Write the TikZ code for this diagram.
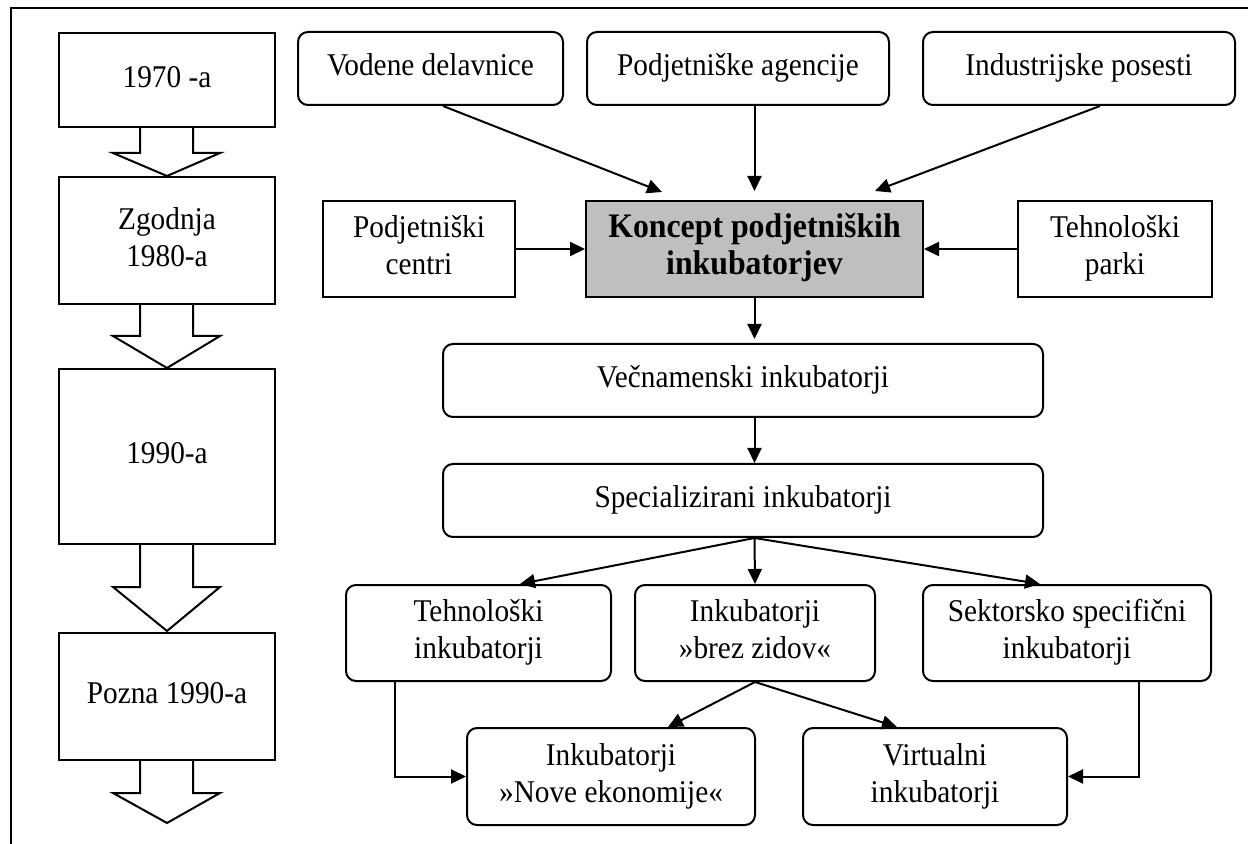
\documentclass[tikz,border=0pt]{standalone}
\usepackage{fontspec}
\usepackage{graphicx}
\setmainfont{Liberation Serif}
\usetikzlibrary{arrows.meta,calc}
\newcommand\tx[1]{\scalebox{1}[1.08]{\begin{tabular}{@{}c@{}}#1\end{tabular}}}
\begin{document}
\begin{tikzpicture}[x=0.5pt,y=-0.5pt, line width=1pt,
  base/.style={draw, inner sep=0pt, font=\fontsize{14.65pt}{17pt}\selectfont},
  sqbox/.style={base},
  rbox/.style={base, rounded corners=5pt},
  conn/.style={-{Triangle[length=7.5pt,width=7pt]}},
  blk/.style={line join=miter}]
\useasboundingbox (0,0) rectangle (1248,844);
% frame
\draw (11,844) -- (11,8) -- (1248,8);

% left column
\node[sqbox, minimum width=108pt, minimum height=47pt] (b1) at (167,80) {\tx{1970 -a}};
\node[sqbox, minimum width=108pt, minimum height=63.5pt] (b2) at (167,240.5) {\tx{Zgodnja\\1980-a}};
\node[sqbox, minimum width=108pt, minimum height=87.5pt] (b3) at (167,456.5) {\tx{1990-a}};
\node[sqbox, minimum width=108pt, minimum height=63.5pt] (b4) at (167,696.5) {\tx{Pozna 1990-a}};
\newcommand\barrow[3]{\draw[blk] (140,#1) -- (140,#2) -- (113,#2) -- (167,#3) -- (220,#2) -- (193,#2) -- (193,#1);}
\barrow{127}{153}{176}
\barrow{304}{336}{368}
\barrow{544}{587}{631}
\barrow{760}{793}{823}

% top row
\node[rbox, minimum width=132.5pt, minimum height=36.5pt] (vod) at (430.5,68.5) {\tx{Vodene delavnice}};
\node[rbox, minimum width=151pt, minimum height=36.5pt] (agen) at (738,68.5) {\tx{Podjetniške agencije}};
\node[rbox, minimum width=156pt, minimum height=36.5pt] (ind) at (1079,68.5) {\tx{Industrijske posesti}};
% middle row
\node[sqbox, minimum width=96pt, minimum height=48pt] (cen) at (419,249) {\tx{Podjetniški\\centri}};
\node[sqbox, fill=black!25, minimum width=168.5pt, minimum height=48pt,
      font=\fontsize{15.9pt}{17pt}\selectfont\bfseries] (kon) at (754.5,249) {\tx{Koncept podjetniških\\inkubatorjev}};
\node[sqbox, minimum width=97pt, minimum height=48pt] (par) at (1115,249) {\tx{Tehnološki\\parki}};
% chain
\node[rbox, minimum width=300pt, minimum height=36.5pt] (vec) at (743,380.5) {\tx{Večnamenski inkubatorji}};
\node[rbox, minimum width=300pt, minimum height=36.5pt] (spe) at (743,500.5) {\tx{Specializirani inkubatorji}};
\node[rbox, minimum width=132.5pt, minimum height=48pt] (tin) at (478.5,633) {\tx{Tehnološki\\inkubatorji}};
\node[rbox, minimum width=120pt, minimum height=48pt] (brz) at (755,633) {\tx{Inkubatorji\\»brez zidov«}};
\node[rbox, minimum width=144pt, minimum height=48pt] (sek) at (1067,633) {\tx{Sektorsko specifični\\inkubatorji}};
\node[rbox, minimum width=144pt, minimum height=48.5pt] (nov) at (611,776.5) {\tx{Inkubatorji\\»Nove ekonomije«}};
\node[rbox, minimum width=132pt, minimum height=48.5pt] (vir) at (935,776.5) {\tx{Virtualni\\inkubatorji}};

% connectors
\draw[conn] ([xshift=6.25pt]vod.south) -- ([xshift=-46.25pt,yshift=4pt]kon.north);
\draw[conn] (agen.south -| kon.north) -- ([yshift=4.5pt]kon.north);
\draw[conn] ([xshift=10.5pt]ind.south) -- ([xshift=60.25pt,yshift=4.5pt]kon.north);
\draw[conn] (cen.east) -- (kon.west);
\draw[conn] (par.west) -- (kon.east);
\draw[conn, shorten >=2pt] (kon.south) -- (kon.south |- vec.north);
\draw[conn] (kon.south |- vec.south) -- (kon.south |- spe.north);
\coordinate (sp) at (kon.south |- spe.south);
\draw[conn] (sp) -- ([xshift=20.75pt]tin.north);
\draw[conn] (sp) -- (brz.north);
\draw[conn] (sp) -- ([xshift=-13.5pt]sek.north);
\draw[conn] ([xshift=-41.75pt]tin.south) |- (nov.west);
\draw[conn] ([xshift=36pt]sek.south) |- (vir.east);
\draw[conn] (brz.south) -- ([xshift=28.5pt]nov.north);
\draw[conn] (brz.south) -- ([xshift=-19pt]vir.north);
\end{tikzpicture}
\end{document}
